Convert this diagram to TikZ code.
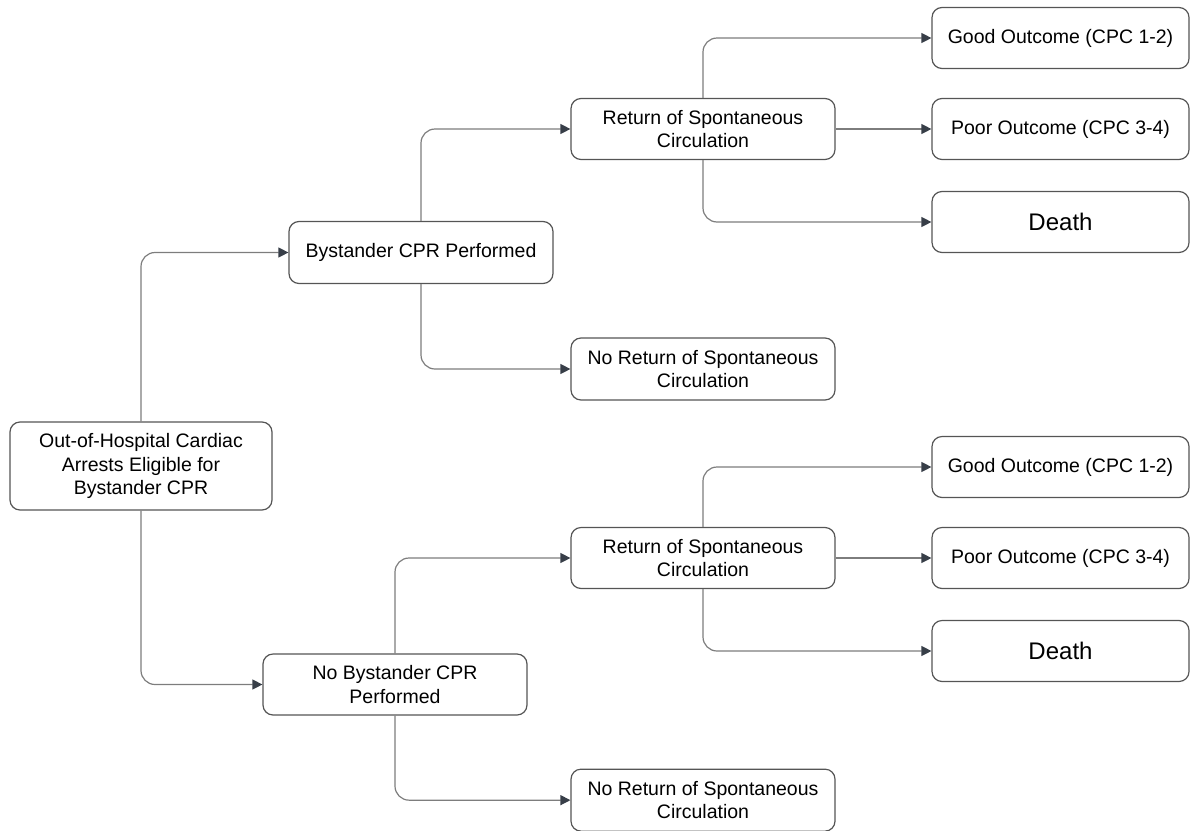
\documentclass[tikz,border=0pt]{standalone}
\usepackage{fontspec}
\setmainfont{Liberation Sans}
\usetikzlibrary{arrows.meta}
\definecolor{boxline}{RGB}{85,85,85}
\definecolor{linkline}{RGB}{125,125,125}
\definecolor{tipfill}{RGB}{55,62,72}
\begin{document}
\begin{tikzpicture}[x=1pt, y=-1pt,
        every node/.style={font=\fontsize{19.5}{23.5}\selectfont},
        stagebox/.style={draw=boxline, line width=1.2pt, rounded corners=10pt, align=center,
            minimum width=264pt, minimum height=62pt, inner sep=2pt},
        endbox/.style={stagebox, minimum width=257pt, minimum height=61pt},
        link/.style={draw=linkline, line width=1.2pt, rounded corners=14pt,
            -{Triangle[length=10pt, width=10pt, fill=tipfill, color=tipfill]}}]
    \useasboundingbox (0,0) rectangle (1190,830);
    \node[stagebox, minimum width=262pt, minimum height=88pt] (root) at (141,466)
        {Out-of-Hospital Cardiac\\Arrests Eligible for\\Bystander CPR};
    \node[stagebox] (cpr1) at (421,252.5) {Bystander CPR Performed};
    \node[stagebox, minimum height=61pt] (cpr2) at (395,684.5) {No Bystander CPR\\Performed};
    \foreach \k/\dy in {1/0, 2/429} {
        \node[stagebox, minimum height=61pt] (rosc\k) at (703,129+\dy) {Return of Spontaneous\\Circulation};
        \node[stagebox] (norosc\k) at (703,369+\dy*1.005) {No Return of Spontaneous\\Circulation};
        \node[endbox] (good\k) at (1060.5,38+\dy) {Good Outcome (CPC 1-2)};
        \node[endbox] (poor\k) at (1060.5,129+\dy) {Poor Outcome (CPC 3-4)};
        \node[endbox, font=\fontsize{24}{28}\selectfont] (death\k) at (1060.5,222+\dy) {Death};
        \draw[link] (cpr\k.north) |- (rosc\k.west);
        \draw[link] (cpr\k.south) |- (norosc\k.west);
        \draw[link] (rosc\k.north) |- (good\k.west);
        \draw[link] (rosc\k.east) -- (poor\k.west);
        \draw[link] (rosc\k.south) |- (death\k.west);
    }
    \draw[link] (root.north) |- (cpr1.west);
    \draw[link] (root.south) |- (cpr2.west);
\end{tikzpicture}
\end{document}
